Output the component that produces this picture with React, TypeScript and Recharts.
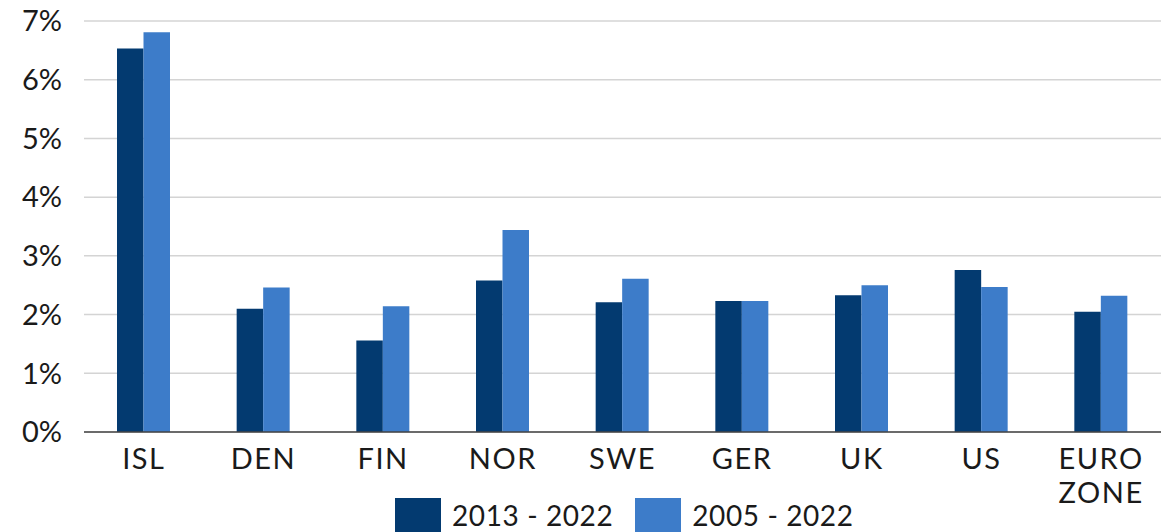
import React from "react";
import { Bar, BarChart, CartesianGrid, Legend, XAxis, YAxis } from "recharts";

const categories = ["ISL", "DEN", "FIN", "NOR", "SWE", "GER", "UK", "US", "EURO ZONE"];
const recent = [6.53, 2.1, 1.56, 2.58, 2.21, 2.23, 2.33, 2.76, 2.05];
const longRun = [6.81, 2.46, 2.14, 3.44, 2.61, 2.23, 2.5, 2.47, 2.32];
const yTicks = [0, 1, 2, 3, 4, 5, 6, 7];

const seriesNames = ["2013 - 2022", "2005 - 2022"];
const colors = ["#033a70", "#3d7cc9"];

const data = categories.map((name, i) => ({
  name,
  recent: recent[i],
  longRun: longRun[i]
}));

const FONT = "Lato, 'Open Sans', sans-serif";

function CategoryTick({ x, y, payload }: any) {
  const lines = String(payload.value).split(" ");
  return (
    <text
      x={x}
      y={y}
      textAnchor="middle"
      fill="#1a1a1a"
      fontFamily={FONT}
      fontSize={29}
      letterSpacing={1.5}
    >
      {lines.map((line, i) => (
        <tspan key={line} x={x} dy={i === 0 ? 29 : 34}>
          {line}
        </tspan>
      ))}
    </text>
  );
}

function LegendBox() {
  return (
    <div style={{ display: "flex", alignItems: "flex-start", fontFamily: FONT }}>
      {seriesNames.map((s, i) => (
        <div key={s} style={{ display: "flex", alignItems: "flex-start", marginRight: 22 }}>
          <div style={{ width: 46, height: 46, background: colors[i] }} />
          <span
            style={{
              fontSize: 28,
              color: "#1a1a1a",
              marginLeft: 11,
              lineHeight: "28px",
              marginTop: 3,
              letterSpacing: 0.6
            }}
          >
            {s}
          </span>
        </div>
      ))}
    </div>
  );
}

export default function App() {
  return (
    <div style={{ position: "absolute", left: 0, top: 0, width: 1167, height: 532, background: "#fff", overflow: "hidden" }}>
      <BarChart
        width={1167}
        height={532}
        data={data}
        margin={{ top: 21, right: 6, bottom: 40, left: 0 }}
        barGap={0}
        barSize={26.5}
      >
        <CartesianGrid vertical={false} stroke="#d4d4d4" strokeWidth={1.5} />
        <XAxis
          dataKey="name"
          interval={0}
          height={60}
          tickLine={false}
          tick={<CategoryTick />}
          axisLine={{ stroke: "#444", strokeWidth: 1.5 }}
        />
        <YAxis
          type="number"
          domain={[0, 7]}
          ticks={yTicks}
          width={84}
          axisLine={false}
          tickLine={false}
          tickSize={6}
          tickMargin={16}
          tickFormatter={(v) => `${v}%`}
          tick={{ fill: "#1a1a1a", fontSize: 29, fontFamily: FONT }}
        />
        <Legend
          layout="horizontal"
          verticalAlign="middle"
          align="center"
          content={<LegendBox />}
          wrapperStyle={{ top: 498, left: 395, width: 800 }}
        />
        <Bar dataKey="recent" name={seriesNames[0]} fill={colors[0]} isAnimationActive={false} />
        <Bar dataKey="longRun" name={seriesNames[1]} fill={colors[1]} isAnimationActive={false} />
      </BarChart>
    </div>
  );
}
